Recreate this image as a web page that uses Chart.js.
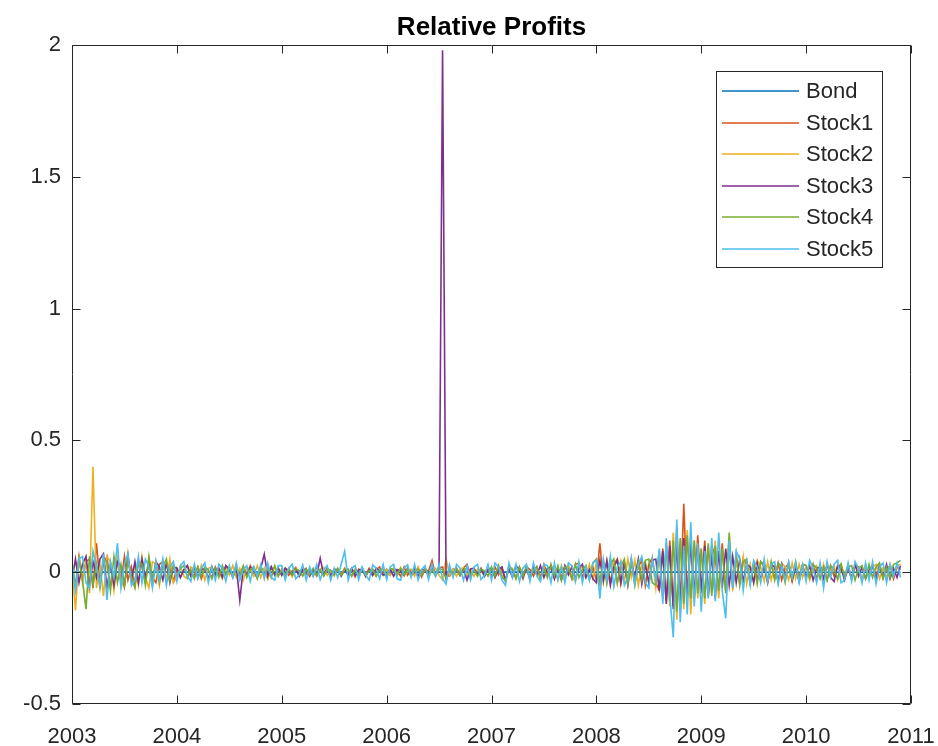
<!DOCTYPE html>
<html>
<head>
<meta charset="utf-8">
<title>Relative Profits</title>
<script src="https://cdn.jsdelivr.net/npm/chart.js@4.4.1/dist/chart.umd.min.js"></script>
<style>
  html, body { margin: 0; padding: 0; background: #ffffff; }
  canvas { display: block; }
</style>
</head>
<body>
<canvas id="chart" width="938" height="746"></canvas>
<script>
// Series names and MATLAB default line colours
const seriesNames = ['Bond', 'Stock1', 'Stock2', 'Stock3', 'Stock4', 'Stock5'];
const seriesColors = ['#0072BD', '#D95319', '#EDB120', '#7E2F8E', '#77AC30', '#4DBEEE'];
const chartTitle = 'Relative Profits';

// Sampling of the stock series: 30 observations per year starting at 2003
const startYear = 2003;
const samplesPerYear = 30;

// Axis ticks
const xTicks = [2003, 2004, 2005, 2006, 2007, 2008, 2009, 2010, 2011];
const yTicks = [-0.5, 0, 0.5, 1, 1.5, 2];

// Bond relative profit (nearly flat)
const bondDates = [2003, 2004, 2005, 2006, 2007, 2008, 2009, 2010, 2010.9];
const bond = [0.0001, 0.0001, 0.0001, 0.0002, 0.0002, 0.0001, 0.0001, 0.0000, 0.0000];

// Stock relative profits, one row per year (2003 ... 2010)
const stock1 = [
  .02,-.05,.06,-.03,.04,.05,-.06,.11,-.04,.03,.06,-.05,-.02,.05,-.04,.06,-.03,.02,-.05,.04,.03,-.04,.05,-.02,-.04,.03,.04,-.03,.02,-.035,
  .015,-.02,.01,.025,-.015,-.01,.02,-.025,.015,.005,-.02,.02,-.01,-.015,.025,.01,-.02,.015,-.01,.02,-.015,.025,-.005,-.02,.015,.01,-.025,.02,-.01,.015,
  -.01,.015,-.012,.005,.018,-.015,.01,-.008,.012,-.015,.02,.005,-.012,.01,-.015,.012,.008,-.01,.015,-.012,.01,-.018,.012,.005,-.01,.015,-.012,.01,.02,-.01,
  .012,-.01,.015,.005,-.015,.02,-.012,.008,-.01,.015,-.018,.01,.005,.045,-.012,.015,.02,-.01,-.015,.012,.01,-.012,.015,.03,-.015,.01,-.008,.015,-.012,.01,
  -.015,.02,-.01,.015,-.035,.025,.01,-.02,.015,-.025,.02,.01,-.015,.02,-.02,.03,-.01,.025,-.025,.015,-.02,.025,.01,-.025,.03,.035,-.02,.015,-.025,.02,
  -.03,.11,-.035,.045,-.04,.03,.05,-.045,.035,-.03,.05,-.04,.02,.045,-.05,.03,.055,-.04,-.07,.09,-.11,.12,-.13,.17,-.12,.26,-.09,.13,-.10,.14,
  -.08,.12,-.09,.10,.06,-.08,.11,-.07,.09,-.05,.06,-.04,.05,.03,-.04,.035,-.03,.04,.02,-.035,.03,-.025,.035,-.03,.02,.03,-.035,.025,-.02,.03,
  .025,-.02,.03,-.025,.015,.02,-.03,.025,-.015,.02,.03,-.025,.01,-.02,.025,.02,-.03,.015,-.02,.025,-.015,.03,-.02,.01,.025,-.025,.02,.01
];
const stock2 = [
  .02,-.145,.06,-.04,.05,-.08,.40,-.06,.03,-.09,.06,.04,-.07,.05,-.03,-.06,.07,-.04,.03,-.05,.06,-.02,-.06,.04,.03,-.05,.04,-.03,.05,-.04,
  -.02,.025,-.015,-.025,.02,.01,-.02,.025,-.03,.015,.02,-.015,.01,-.025,.02,-.01,.025,-.02,.015,-.03,.02,.01,-.015,.025,-.02,.015,-.025,.01,.02,-.015,
  .012,-.015,.01,-.018,.015,.005,-.012,.015,-.01,.012,-.015,.01,.018,-.012,.005,-.015,.012,-.01,.015,.008,-.015,.012,-.01,.015,-.018,.01,.012,-.015,.01,-.012,
  .01,-.012,.015,-.01,.018,-.015,.005,.012,-.015,.02,-.01,.012,-.018,.01,.015,-.012,-.03,.05,-.01,.012,-.015,.01,.018,-.012,.01,-.015,.012,.005,-.015,.012,
  .015,-.02,.025,-.01,-.035,.02,.015,-.025,.02,-.015,.01,-.025,.02,.015,-.03,.02,-.02,.025,.01,-.03,.025,-.02,.03,-.015,-.035,.025,.015,-.02,.03,-.025,
  .035,-.05,.04,-.03,.05,.02,-.045,.04,-.035,.05,-.02,.045,-.05,.03,.04,-.045,.05,-.06,.07,-.10,.11,-.13,.15,-.18,.12,-.14,.16,-.16,.12,-.10,
  .09,-.12,.10,-.08,.12,-.10,.08,-.06,.13,-.07,.05,-.04,.06,-.045,.03,-.04,.045,.02,-.035,.04,-.03,.025,-.04,.035,.02,-.03,.035,-.025,.03,-.02,
  .02,-.03,.015,.025,-.02,.03,-.025,.01,.025,-.03,.02,-.015,.03,-.025,.02,.015,-.03,.025,-.02,.02,.03,-.025,.015,-.02,.03,-.015,.025,.03
];
const stock3 = [
  -.03,.05,-.04,.03,.06,-.05,.04,-.02,.05,.07,-.06,.03,-.05,.04,.02,-.05,.06,-.03,.04,-.04,.05,-.02,.03,-.045,.04,.02,-.03,.035,-.04,.02,
  .015,-.02,.01,.025,-.015,.02,-.02,.01,.015,-.025,.02,-.01,.015,-.02,.025,.01,-.015,.02,-.106,.015,-.01,.02,.01,-.02,.015,.068,-.015,.02,-.01,.015,
  -.012,.015,.005,-.01,.012,-.015,.01,.012,-.015,.01,-.012,.053,-.01,.015,-.012,.005,.012,-.015,.01,-.01,.015,-.012,.008,.012,-.015,.01,-.012,.015,.005,-.01,
  -.01,.012,-.015,.01,.005,-.012,.015,-.01,.012,-.015,.01,.008,-.012,.015,-.01,.02,1.98,-.02,.012,-.01,.015,-.012,.01,-.03,.012,.015,-.01,.012,-.015,.01,
  .015,-.02,.01,.02,-.03,.015,-.02,.025,.01,-.02,.015,-.025,.02,-.01,.025,-.02,.015,.02,-.025,.015,-.03,.025,-.01,.02,-.025,.015,.03,-.02,.01,-.025,
  -.04,.045,-.03,.04,-.05,.02,.045,-.04,.035,-.05,.04,-.02,.05,-.045,.03,-.04,.045,.05,-.07,.08,-.12,.10,-.14,.11,-.15,.13,-.10,.11,-.09,.10,
  -.07,.10,-.09,.07,-.10,.08,-.06,.09,-.05,.06,-.04,.05,-.035,.03,.02,-.04,.035,-.03,.025,-.04,.03,.02,-.035,.03,-.025,.035,-.03,.02,-.035,.025,
  -.02,.025,-.03,.015,.02,-.025,.03,-.02,-.035,.025,.015,-.03,.02,-.025,.03,-.015,.02,-.025,.01,.025,-.03,.02,-.02,.03,-.025,.015,-.02,.025
];
const stock4 = [
  .04,-.06,.05,-.03,-.14,.06,-.05,.03,-.06,.05,.04,-.07,.06,-.04,.03,-.05,.05,-.02,-.06,.04,.03,-.05,.06,-.03,.04,-.04,.02,.05,-.03,.03,
  -.02,.015,.025,-.02,.01,-.025,.02,-.015,.02,.01,-.025,.015,-.02,.025,-.01,.02,-.02,.015,-.015,.025,-.02,.01,.02,-.025,.015,-.01,.02,-.02,.025,-.015,
  .01,-.012,.015,-.01,.012,.005,-.015,.012,-.01,.015,-.012,.01,-.015,.012,.008,-.01,.015,-.012,.01,.012,-.015,.01,-.012,.015,-.01,.005,.012,-.015,.01,.012,
  -.012,.015,.01,-.012,.015,-.01,.012,-.015,.005,.012,-.01,.015,-.012,.01,-.015,.012,.01,-.025,.012,-.01,.015,-.012,.01,.015,-.012,.01,-.015,.012,.005,-.015,
  .02,-.015,.025,-.02,-.03,.02,.01,-.025,.02,-.015,.025,-.02,.01,.02,-.025,.015,-.02,.03,-.015,.025,-.03,.02,.015,-.025,.03,-.02,.01,.025,-.03,.035,
  .05,-.035,.04,-.045,.03,.05,-.04,.02,.05,-.045,.035,-.05,.04,-.03,.045,.05,-.04,-.05,.08,-.09,.10,-.11,.12,-.15,.13,-.12,.14,-.10,.12,-.08,
  .09,-.10,.11,-.09,.10,-.07,.09,-.08,.15,-.06,.07,-.05,.04,.05,-.04,.03,-.045,.04,.03,-.035,.04,-.03,.035,.02,-.04,.035,-.025,.04,-.03,.03,
  .025,-.02,.03,.015,-.025,.02,-.03,.025,.01,-.025,.03,-.02,.02,.025,-.03,.015,.025,-.025,.03,-.02,.02,.035,-.025,.02,-.02,.03,.035,.045
];
const stock5 = [
  .03,-.07,.05,.06,-.04,-.06,.08,.02,-.05,.07,-.105,.04,-.02,.11,-.06,.03,.07,-.05,-.03,.06,-.04,.05,.02,-.06,.04,-.03,.05,-.05,.02,.04,
  -.035,.025,.04,-.015,-.035,.03,-.025,.015,.035,-.04,.02,-.03,.03,.015,-.035,.025,-.02,.035,-.03,.01,.025,-.035,.02,-.015,.03,-.025,.035,-.02,-.03,.025,
  .025,-.03,.015,.03,-.025,-.01,.028,-.03,.02,-.015,.03,-.028,.01,.025,-.03,.015,-.02,.03,.08,-.03,.015,.025,-.028,.02,-.01,-.03,.028,.015,-.025,.03,
  -.028,.02,.03,-.025,-.03,.015,.028,-.02,.03,-.03,.01,.025,-.028,.03,-.015,.03,-.025,-.045,.028,-.02,.03,.015,-.03,.025,-.03,.02,.03,-.028,-.012,.03,
  -.03,.035,.02,-.03,-.05,.035,-.02,.03,-.035,.015,.03,-.035,.035,-.015,-.035,.03,.025,-.04,.035,-.03,.02,-.04,.035,.025,-.035,.04,-.04,.02,-.03,.035,
  .045,-.10,.05,-.03,.06,-.055,.02,.04,-.05,-.02,.055,-.045,.03,.06,-.04,-.06,.05,-.03,.09,-.12,.13,-.09,-.247,.20,-.19,.10,-.16,.19,-.13,.11,
  -.15,.08,-.10,.13,-.11,.15,-.07,-.175,.12,-.06,.08,.05,-.07,.04,-.05,.045,.02,-.04,.05,-.035,.03,.04,-.045,.025,-.03,.04,-.02,.035,-.04,.03,
  -.035,.045,.015,-.04,.035,-.06,.04,-.02,.03,.045,-.04,-.03,.035,-.035,.04,.015,-.04,.035,-.03,.04,-.045,.02,.035,-.04,.03,-.015,.035,-.02
];

const stockSeries = [stock1, stock2, stock3, stock4, stock5];
const dates = stock1.map((_, i) => startYear + i / samplesPerYear);

const fontFamily = '"Liberation Sans", Arial, Helvetica, sans-serif';
const axisColor = '#262626';

function toPoints(xs, ys) {
  return ys.map((y, i) => ({ x: xs[i], y: y }));
}

const datasets = [
  { label: seriesNames[0], data: toPoints(bondDates, bond) }
].concat(stockSeries.map((vals, k) => ({ label: seriesNames[k + 1], data: toPoints(dates, vals) })))
 .map((ds, k) => Object.assign(ds, {
    borderColor: seriesColors[k],
    backgroundColor: seriesColors[k],
    borderWidth: 1.6,
    pointRadius: 0,
    tension: 0,
    fill: false,
    order: seriesNames.length - k   // later series are drawn on top
 }));

// Title centred over the axes
const axesTitle = {
  id: 'axesTitle',
  afterDraw(chart) {
    const { ctx, chartArea: a } = chart;
    ctx.save();
    ctx.fillStyle = '#000000';
    ctx.font = 'bold 26px ' + fontFamily;
    ctx.textAlign = 'center';
    ctx.textBaseline = 'middle';
    ctx.fillText(chartTitle, (a.left + a.right) / 2, 28);
    ctx.restore();
  }
};

// Box around the axes with inward tick marks
const axesFrame = {
  id: 'axesFrame',
  afterDatasetsDraw(chart) {
    const { ctx, chartArea: a, scales } = chart;
    const tick = 8;
    const L = Math.round(a.left) + 0.5, R = Math.round(a.right) - 0.5;
    const T = Math.round(a.top) + 0.5, B = Math.round(a.bottom) - 0.5;
    ctx.save();
    ctx.strokeStyle = axisColor;
    ctx.lineWidth = 1;
    ctx.beginPath();
    ctx.rect(L, T, R - L, B - T);
    xTicks.forEach(v => {
      const px = Math.round(scales.x.getPixelForValue(v)) + 0.5;
      ctx.moveTo(px, B); ctx.lineTo(px, B - tick);
      ctx.moveTo(px, T); ctx.lineTo(px, T + tick);
    });
    yTicks.forEach(v => {
      const py = Math.round(scales.y.getPixelForValue(v)) + 0.5;
      ctx.moveTo(L, py); ctx.lineTo(L + tick, py);
      ctx.moveTo(R, py); ctx.lineTo(R - tick, py);
    });
    ctx.stroke();
    ctx.restore();
  }
};

// Legend box in the upper right corner of the axes
const boxLegend = {
  id: 'boxLegend',
  afterDraw(chart) {
    const { ctx, chartArea: a } = chart;
    const w = 167, h = 197;
    const x0 = a.right - 195, y0 = a.top + 26;
    ctx.save();
    ctx.fillStyle = '#ffffff';
    ctx.fillRect(x0, y0, w, h);
    ctx.strokeStyle = axisColor;
    ctx.lineWidth = 1;
    ctx.strokeRect(x0 + 0.5, y0 + 0.5, w - 1, h - 1);
    ctx.font = '22px ' + fontFamily;
    ctx.textBaseline = 'middle';
    ctx.textAlign = 'left';
    seriesNames.forEach((name, k) => {
      const yy = y0 + 20 + k * 31.6;
      ctx.strokeStyle = seriesColors[k];
      ctx.lineWidth = 1.3;
      ctx.beginPath();
      ctx.moveTo(x0 + 6, Math.round(yy));
      ctx.lineTo(x0 + 83, Math.round(yy));
      ctx.stroke();
      ctx.fillStyle = axisColor;
      ctx.fillText(name, x0 + 90, yy + 1);
    });
    ctx.restore();
  }
};

new Chart(document.getElementById('chart'), {
  type: 'line',
  data: { datasets: datasets },
  options: {
    responsive: false,
    animation: false,
    events: [],
    layout: { padding: { left: 0, right: 27, top: 45, bottom: 0 } },
    plugins: {
      legend: { display: false },
      tooltip: { enabled: false },
      title: { display: false }
    },
    scales: {
      x: {
        type: 'linear',
        min: 2003,
        max: 2011,
        grid: { display: false, drawTicks: false },
        border: { display: false },
        afterFit: s => {
          s.height = 42;
          s.paddingLeft = 0; s.paddingRight = 0; s.paddingTop = 0; s.paddingBottom = 0;
        },
        afterBuildTicks: s => { s.ticks = xTicks.map(v => ({ value: v })); },
        ticks: {
          color: axisColor,
          font: { family: fontFamily, size: 22 },
          padding: 20,
          maxRotation: 0,
          autoSkip: false,
          callback: v => String(v)
        }
      },
      y: {
        type: 'linear',
        min: -0.5,
        max: 2,
        grid: { display: false, drawTicks: false },
        border: { display: false },
        afterFit: s => {
          s.width = 72;
          s.paddingLeft = 0; s.paddingRight = 0; s.paddingTop = 0; s.paddingBottom = 0;
        },
        afterBuildTicks: s => { s.ticks = yTicks.map(v => ({ value: v })); },
        ticks: {
          color: axisColor,
          font: { family: fontFamily, size: 22 },
          padding: 11,
          callback: v => String(v)
        }
      }
    }
  },
  plugins: [axesFrame, boxLegend, axesTitle]
});
</script>
</body>
</html>
